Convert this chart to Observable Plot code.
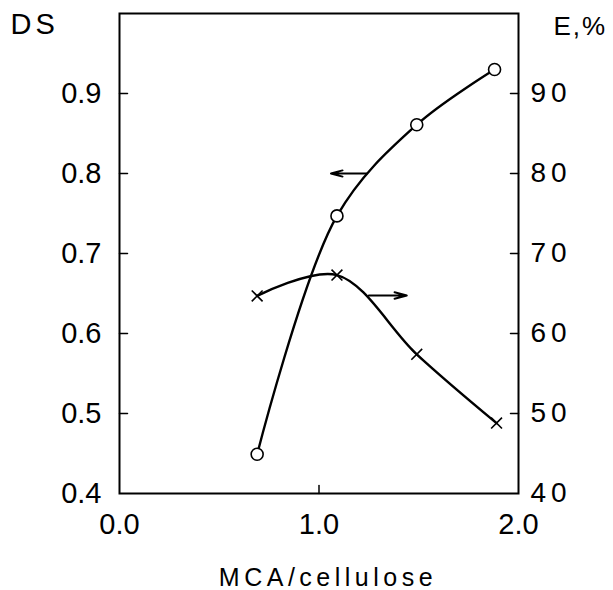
<!DOCTYPE html>
<html>
<head>
<meta charset="utf-8">
<script src="https://cdn.jsdelivr.net/npm/d3@7"></script>
<script src="https://cdn.jsdelivr.net/npm/@observablehq/plot@0.6"></script>
<style>
  html, body { margin: 0; padding: 0; background: #fff; }
  #chart svg { display: block; }
</style>
</head>
<body>
<div id="chart"></div>
<script>
// MCA/cellulose ratio (x) for the DS series (open circles, left axis)
const dsX = [0.69, 1.09, 1.49, 1.88];
const dsY = [0.449, 0.747, 0.861, 0.930];
// MCA/cellulose ratio (x) for the E,% series (crosses, right axis)
const eX = [0.69, 1.09, 1.49, 1.89];
const eY = [64.7, 67.3, 57.4, 48.8];

// tick labels
const dsTicks = [0.4, 0.5, 0.6, 0.7, 0.8, 0.9];
const eTicks = [40, 50, 60, 70, 80, 90];
const xTicks = [0.0, 1.0, 2.0];

// arrows showing which axis each curve belongs to
const dsArrow = [{x1: 1.24, x2: 1.06, y: 0.80}];
const eArrow = [{x1: 1.25, x2: 1.44, y: 64.75}];

const ds = dsX.map((x, i) => ({x, y: dsY[i]}));
const e = eX.map((x, i) => ({x, y: eY[i] / 100}));   // E 40..100 shares the 0.4..1.0 scale

const tickLine = {draw(context, l) { context.moveTo(0, 0); context.lineTo(0, -l); }};
const font = "Liberation Sans, Arial, sans-serif";

const chart = Plot.plot({
  width: 613,
  height: 590,
  marginLeft: 119,
  marginRight: 95,
  marginTop: 13,
  marginBottom: 97,
  style: {fontFamily: font, color: "#000", background: "#fff"},
  x: {domain: [0, 2], axis: null},
  y: {domain: [0.4, 1.0], axis: null},
  marks: [
    Plot.frame({stroke: "#000", strokeWidth: 2}),
    // inward ticks
    Plot.vector(dsTicks.slice(1), {y: d => d, frameAnchor: "left", rotate: 90, length: 8, anchor: "start", shape: tickLine, stroke: "#000", strokeWidth: 1.5}),
    Plot.vector(eTicks.slice(1), {y: d => d / 100, frameAnchor: "right", rotate: -90, length: 8, anchor: "start", shape: tickLine, stroke: "#000", strokeWidth: 1.5}),
    Plot.vector([1.0], {x: d => d, frameAnchor: "bottom", rotate: 0, length: 8, anchor: "start", shape: tickLine, stroke: "#000", strokeWidth: 1.5}),
    // tick labels
    Plot.text(dsTicks, {y: d => d, text: d => d.toFixed(1), frameAnchor: "left", textAnchor: "end", dx: -18, fontSize: 29, fill: "#000"}),
    Plot.text(eTicks, {y: d => d / 100, text: d => String(d), frameAnchor: "right", textAnchor: "start", dx: 12, fontSize: 28, fill: "#000"}),
    Plot.text(xTicks, {x: d => d, text: d => d.toFixed(1), frameAnchor: "bottom", lineAnchor: "middle", dy: 31, fontSize: 29, fill: "#000"}),
    // axis titles
    Plot.text(["MCA/cellulose"], {text: d => d, frameAnchor: "bottom", lineAnchor: "middle", dy: 84, dx: 9, fontSize: 25, fill: "#000"}),
    Plot.text(["DS"], {text: d => d, frameAnchor: "top-left", textAnchor: "start", lineAnchor: "middle", dx: -109, dy: 11, fontSize: 29, fill: "#000"}),
    Plot.text(["E,%"], {text: d => d, frameAnchor: "top-right", textAnchor: "start", lineAnchor: "middle", dx: 35, dy: 13, fontSize: 26, fill: "#000"}),
    // curves
    Plot.line(ds, {x: "x", y: "y", curve: "catmull-rom", stroke: "#000", strokeWidth: 2.4}),
    Plot.line(e, {x: "x", y: "y", curve: "catmull-rom", stroke: "#000", strokeWidth: 2.4}),
    // arrows
    Plot.arrow(dsArrow, {x1: "x1", x2: "x2", y1: "y", y2: "y", stroke: "#000", strokeWidth: 2, headLength: 12, headAngle: 30}),
    Plot.arrow(eArrow, {x1: "x1", x2: "x2", y1: d => d.y / 100, y2: d => d.y / 100, stroke: "#000", strokeWidth: 2, headLength: 12, headAngle: 30}),
    // markers
    Plot.dot(ds, {x: "x", y: "y", r: 6, fill: "#fff", stroke: "#000", strokeWidth: 1.6}),
    Plot.dot(e, {x: "x", y: "y", symbol: "times", r: 5, stroke: "#000", strokeWidth: 1.6})
  ]
});
// letter spacing to mimic the wide-set lettering of the original
const rightLabels = new Set(eTicks.map(String));
d3.select(chart).selectAll("text").each(function () {
  const t = this.textContent;
  let s = null;
  if (rightLabels.has(t)) s = "5px";
  else if (t === "MCA/cellulose") s = "4.5px";
  else if (t === "DS") s = "4px";
  else if (t === "E,%") s = "2px";
  if (s) this.setAttribute("letter-spacing", s);
});
document.getElementById("chart").appendChild(chart);
</script>
</body>
</html>
